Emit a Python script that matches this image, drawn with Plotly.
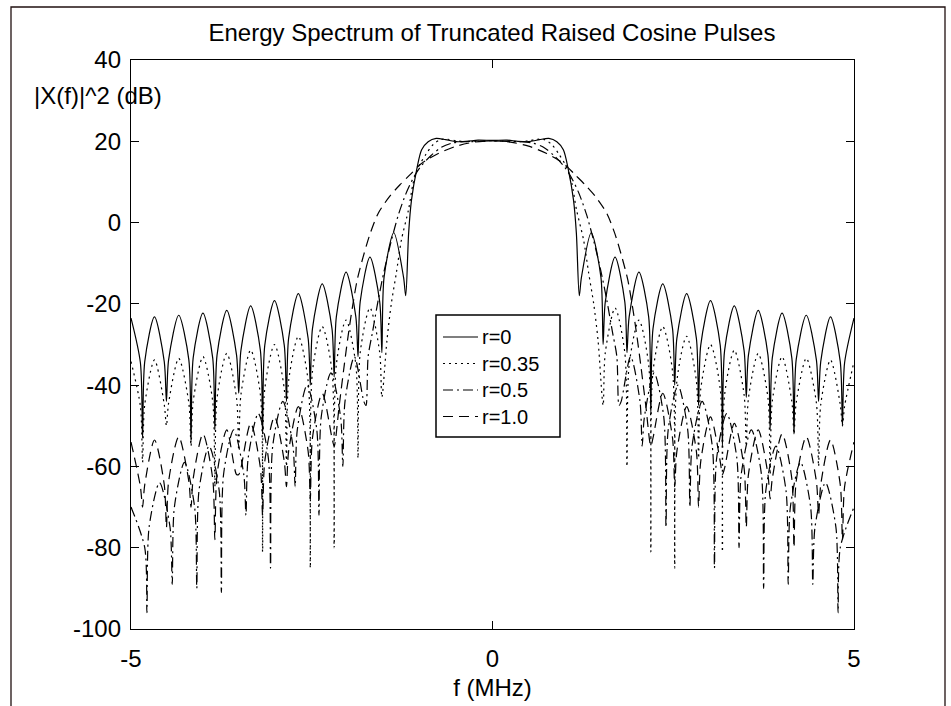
import plotly.graph_objects as go

# ---------------- data (positive-frequency nodes, MHz; levels in dB) ----------------
f_r0 = [0.00, 0.20, 0.35, 0.50, 0.65, 0.78, 0.89, 0.98, 1.05, 1.12, 1.16, 1.20,
        1.23, 1.365, 1.50, 1.53,
        1.56, 1.695, 1.83, 1.86,
        1.89, 2.025, 2.16, 2.19,
        2.22, 2.355, 2.49, 2.52,
        2.55, 2.685, 2.82, 2.85,
        2.88, 3.015, 3.15, 3.18,
        3.21, 3.345, 3.48, 3.51,
        3.54, 3.675, 3.81, 3.84,
        3.87, 4.005, 4.14, 4.17,
        4.20, 4.34, 4.48, 4.51,
        4.54, 4.675, 4.81, 4.84,
        4.87, 5.00]
db_r0_right = [20.2, 20.3, 20.0, 19.9, 20.4, 20.7, 19.9, 17.9, 12.9, 5.6, -2.6, -18.0,
               -13.5, -2.5, -13.5, -30,
               -19.5, -8.5, -19.5, -32,
               -23.2, -12.2, -23.2, -47,
               -26.1, -15.1, -26.1, -40,
               -28.5, -17.5, -28.5, -45,
               -30.2, -19.2, -30.2, -55,
               -31.5, -20.5, -31.5, -43,
               -32.6, -21.6, -32.6, -51,
               -33.3, -22.3, -33.3, -52,
               -33.8, -22.8, -33.8, -44,
               -34.2, -23.2, -34.2, -50,
               -34.5, -23.5]
db_r0_left = [20.2, 20.3, 20.0, 19.9, 20.4, 20.7, 19.9, 17.9, 12.9, 5.6, -2.6, -18.0,
              -13.5, -2.5, -13.5, -32,
              -19.5, -8.5, -19.5, -33,
              -23.2, -12.2, -23.2, -38,
              -26.1, -15.1, -26.1, -40,
              -28.5, -17.5, -28.5, -44,
              -30.2, -19.2, -30.2, -52,
              -31.5, -20.5, -31.5, -42,
              -32.6, -21.6, -32.6, -51,
              -33.3, -22.3, -33.3, -54,
              -33.8, -22.8, -33.8, -44,
              -34.2, -23.2, -34.2, -53,
              -34.5, -23.5]

f_r35 = [0.00, 0.20, 0.35, 0.50, 0.62, 0.72, 0.82, 0.92, 1.00, 1.05, 1.10, 1.16, 1.26, 1.33, 1.40, 1.46, 1.53,
         1.56, 1.695, 1.83, 1.86,
         1.89, 2.025, 2.16, 2.19,
         2.22, 2.355, 2.49, 2.52,
         2.55, 2.685, 2.82, 2.85,
         2.88, 3.015, 3.15, 3.18,
         3.21, 3.345, 3.48, 3.51,
         3.54, 3.675, 3.81, 3.84,
         3.87, 4.005, 4.14, 4.17,
         4.20, 4.34, 4.48, 4.51,
         4.54, 4.675, 4.81, 4.84,
         4.87, 5.00]
db_r35_right = [20.1, 20.0, 19.9, 20.1, 20.5, 20.4, 19.2, 16.8, 14.5, 12.5, 9.5, 3.3, -4.3, -12.4, -20, -29, -45,
                -32, -21, -32, -60,
                -35, -24, -35, -81,
                -36.6, -25.6, -36.6, -85,
                -39, -28, -39, -58,
                -41, -30, -41, -81,
                -42.4, -31.4, -42.4, -55,
                -43.2, -32.2, -43.2, -62,
                -44, -33, -44, -52,
                -44.4, -33.4, -44.4, -60,
                -44.8, -33.8, -44.8, -50,
                -45.2, -34.2]
db_r35_left = [20.1, 20.0, 19.9, 20.1, 20.5, 20.4, 19.2, 16.8, 14.5, 12.5, 9.5, 3.3, -4.3, -12.4, -20, -29, -43,
               -32, -21, -32, -58,
               -35, -24, -35, -80,
               -36.6, -25.6, -36.6, -85,
               -39, -28, -39, -60,
               -41, -30, -41, -81,
               -42.4, -31.4, -42.4, -56,
               -43.2, -32.2, -43.2, -65,
               -44, -33, -44, -55,
               -44.4, -33.4, -44.4, -50,
               -44.8, -33.8, -44.8, -59,
               -45.2, -34.2]

f_r50 = [0.00, 0.20, 0.40, 0.55, 0.70, 0.85, 1.00, 1.10, 1.20, 1.30, 1.40, 1.50, 1.58, 1.66, 1.72, 1.75,
         1.78, 1.91, 2.04, 2.07,
         2.10, 2.235, 2.37, 2.40,
         2.43, 2.565, 2.70, 2.73,
         2.76, 2.90, 3.04, 3.07,
         3.10, 3.24, 3.38, 3.41,
         3.44, 3.58, 3.72, 3.75,
         3.78, 3.92, 4.06, 4.09,
         4.12, 4.26, 4.40, 4.43,
         4.46, 4.605, 4.75, 4.78,
         4.81, 5.00]
db_r50_right = [20.1, 20.0, 19.9, 19.6, 18.6, 16.5, 13.6, 10.8, 7.0, 2.0, -4.5, -12, -19, -27, -33, -45,
                -44, -33, -44, -55,
                -48, -37, -48, -75,
                -51, -40, -51, -70,
                -55, -44, -55, -85,
                -58, -47, -58, -80,
                -62, -51, -62, -90,
                -66, -55, -66, -89,
                -70, -59, -70, -89,
                -75, -64, -75, -96,
                -80, -70]
db_r50_left = [20.1, 20.0, 19.9, 19.6, 18.6, 16.5, 13.6, 10.8, 7.0, 2.0, -4.5, -12, -19, -27, -33, -45,
               -44, -33, -44, -60,
               -48, -37, -48, -72,
               -51, -40, -51, -65,
               -55, -44, -55, -85,
               -58, -47, -58, -72,
               -62, -51, -62, -91,
               -66, -55, -66, -90,
               -70, -59, -70, -89,
               -75, -64, -75, -96,
               -80, -70]

f_r100 = [0.00, 0.25, 0.50, 0.75, 0.90, 1.00, 1.14, 1.28, 1.42, 1.58, 1.69, 1.79, 1.87, 1.93, 1.99, 2.05, 2.12, 2.19,
          2.22, 2.355, 2.49, 2.52,
          2.55, 2.685, 2.82, 2.85,
          2.88, 3.015, 3.15, 3.18,
          3.21, 3.345, 3.48, 3.51,
          3.54, 3.675, 3.81, 3.84,
          3.87, 4.005, 4.14, 4.17,
          4.20, 4.34, 4.48, 4.51,
          4.54, 4.675, 4.81, 4.84,
          4.87, 5.00]
db_r100_right = [20.1, 19.8, 18.8, 17.0, 15.5, 14.3, 11.8, 9.3, 6.5, 2.3, -2.6, -8.5, -14, -20, -27, -35, -45, -55,
                 -53, -42, -53, -65,
                 -56.3, -45.3, -56.3, -70,
                 -58.8, -47.8, -58.8, -62,
                 -60.4, -49.4, -60.4, -75,
                 -62, -51, -62, -68,
                 -63, -52, -63, -80,
                 -63.7, -52.7, -63.7, -72,
                 -64.5, -53.5, -64.5, -78,
                 -65, -54]
db_r100_left = [20.1, 19.8, 18.8, 17.0, 15.5, 14.3, 11.8, 9.3, 6.5, 2.3, -2.6, -8.5, -14, -20, -27, -35, -45, -55,
                -53, -42, -53, -68,
                -56.3, -45.3, -56.3, -65,
                -58.8, -47.8, -58.8, -72,
                -60.4, -49.4, -60.4, -62,
                -62, -51, -62, -78,
                -63, -52, -63, -70,
                -63.7, -52.7, -63.7, -75,
                -64.5, -53.5, -64.5, -70,
                -65, -54]

series_names = ["r=0", "r=0.35", "r=0.5", "r=1.0"]
x_ticks = [-5, 0, 5]
y_ticks = [-100, -80, -60, -40, -20, 0, 20, 40]

# ---------------- figure ----------------
FONT = "Liberation Sans, Arial, Helvetica, sans-serif"
DASHES = ["solid", "2px,4px", "10px,4px,2px,4px", "10px,6px"]


def full(f_pos, db_left, db_right):
    x = [-v for v in reversed(f_pos)] + f_pos[1:]
    y = list(reversed(db_left)) + db_right[1:]
    return x, y


specs = [
    (f_r0, db_r0_left, db_r0_right),
    (f_r35, db_r35_left, db_r35_right),
    (f_r50, db_r50_left, db_r50_right),
    (f_r100, db_r100_left, db_r100_right),
]

fig = go.Figure()
for name, (fp, dl, dr), dash in zip(series_names, specs, DASHES):
    x, y = full(fp, dl, dr)
    fig.add_trace(go.Scatter(
        x=x, y=y, mode="lines", name=name, showlegend=False,
        line=dict(color="black", width=1.2, dash=dash, shape="spline", smoothing=0.8),
    ))

L, R, T, B = 131, 97, 60, 77
W, H = 951, 706
pw, ph = W - L - R, H - T - B


def px_x(p):
    return (p - L) / pw


def px_y(p):
    return (H - B - p) / ph


axis_common = dict(
    showline=True, linecolor="black", linewidth=1.3, mirror="allticks",
    ticks="inside", ticklen=8, tickwidth=1.3, tickcolor="black",
    showgrid=False, zeroline=False,
    tickfont=dict(family=FONT, size=24, color="black"),
)

# frame around the figure and the legend box (drawn by hand, MATLAB style)
shapes = [
    dict(type="rect", xref="paper", yref="paper",
         x0=px_x(11), x1=px_x(945), y0=px_y(720), y1=px_y(7),
         line=dict(color="#201010", width=1.3), fillcolor="rgba(0,0,0,0)", layer="below"),
    dict(type="rect", xref="paper", yref="paper",
         x0=px_x(436), x1=px_x(560), y0=px_y(437), y1=px_y(315),
         line=dict(color="black", width=1.5), fillcolor="white", layer="above"),
]
annotations = [
    dict(text="|X(f)|^2 (dB)", xref="paper", yref="paper",
         x=px_x(164), y=px_y(95), xanchor="right", yanchor="middle",
         showarrow=False, font=dict(family=FONT, size=24, color="black")),
]
row_y = [337, 363.5, 390, 416.5]
for name, dash, ry in zip(series_names, DASHES, row_y):
    shapes.append(dict(type="line", xref="paper", yref="paper",
                       x0=px_x(443), x1=px_x(478), y0=px_y(ry), y1=px_y(ry),
                       line=dict(color="black", width=1.2, dash=dash), layer="above"))
    annotations.append(dict(text=name, xref="paper", yref="paper",
                            x=px_x(481), y=px_y(ry), xanchor="left", yanchor="middle",
                            borderpad=0, showarrow=False,
                            font=dict(family=FONT, size=20, color="black")))

fig.update_layout(
    width=W, height=H,
    margin=dict(l=L, r=R, t=T, b=B, autoexpand=False),
    paper_bgcolor="white", plot_bgcolor="white",
    font=dict(family=FONT, color="black"),
    title=dict(text="Energy Spectrum of Truncated Raised Cosine Pulses",
               x=px_x(492), xref="paper", xanchor="center",
               y=1 - 33 / H, yref="container", yanchor="middle",
               font=dict(family=FONT, size=24, color="black")),
    xaxis=dict(range=[-5, 5], tickvals=x_ticks, ticktext=[str(v) for v in x_ticks],
               title=dict(text="f (MHz)", font=dict(family=FONT, size=24, color="black"), standoff=8),
               ticklabelstandoff=8, **axis_common),
    yaxis=dict(range=[-100, 40], tickvals=y_ticks, ticktext=[str(v) for v in y_ticks],
               ticklabelstandoff=4, **axis_common),
    showlegend=False,
    shapes=shapes,
    annotations=annotations,
)

fig.write_html("out.html")
